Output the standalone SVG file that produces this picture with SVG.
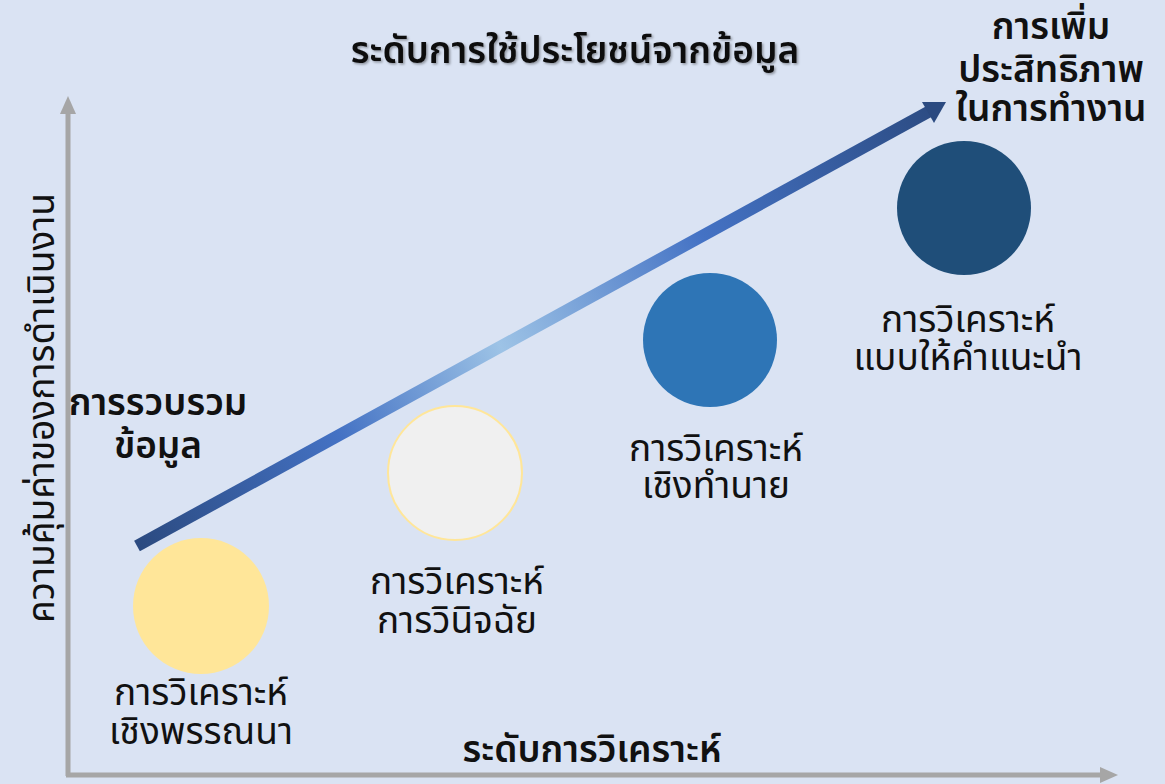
<svg xmlns="http://www.w3.org/2000/svg" width="1165" height="784" viewBox="0 0 1165 784">
<defs>
<style>
text{font-family:"Noto Sans Thai","Noto Sans","DejaVu Sans",sans-serif;font-size:37px;fill:#111;text-anchor:middle}
.b{font-weight:600}
.ax{stroke:#A6A6A6;stroke-width:5;fill:none}
</style>
<linearGradient id="g" gradientUnits="userSpaceOnUse" x1="137" y1="546" x2="945" y2="103">
<stop offset="0" stop-color="#2B4A80"/>
<stop offset="0.25" stop-color="#4472C4"/>
<stop offset="0.45" stop-color="#9DC3E6"/>
<stop offset="0.7" stop-color="#4472C4"/>
<stop offset="1" stop-color="#2B4A80"/>
</linearGradient>
<filter id="sh" x="-5%" y="-20%" width="110%" height="140%"><feDropShadow dx="1.5" dy="1.5" stdDeviation="1" flood-color="#000" flood-opacity="0.35"/></filter>
</defs>
<rect width="1165" height="784" fill="#DAE3F3"/>
<g id="connectors">
<path class="ax" d="M68,776 V110"/>
<polygon points="68,96 60,114 76,114" fill="#A6A6A6"/>
<path class="ax" d="M66,775 H1102"/>
<polygon points="1118,775 1100,767 1100,783" fill="#A6A6A6"/>
<path d="M137,546 L930,111" stroke="url(#g)" stroke-width="12" fill="none"/>
<polygon points="946,102 922,102 934,123" fill="#2B4A80"/>
</g>
<g id="title"><text x="575" y="63" class="b" filter="url(#sh)">ระดับการใช้ประโยชน์จากข้อมูล</text></g>
<g id="goal"><text x="1051" y="39" class="b">การเพิ่ม</text><text x="1051" y="82" class="b">ประสิทธิภาพ</text><text x="1051" y="121" class="b">ในการทำงาน</text></g>
<g id="collect"><text x="158" y="415" class="b">การรวบรวม</text><text x="158" y="458" class="b">ข้อมูล</text></g>
<g id="ylabel"><text transform="translate(54,408) rotate(-90)">ความคุ้มค่าของการดำเนินงาน</text></g>
<g id="xlabel"><text x="592" y="762" class="b">ระดับการวิเคราะห์</text></g>
<g id="n1"><circle cx="201" cy="606" r="68" fill="#FFE699"/><text x="201" y="705">การวิเคราะห์</text><text x="201" y="744">เชิงพรรณนา</text></g>
<g id="n2"><circle cx="455" cy="473" r="67" fill="#F0F0F0" stroke="#FFE699" stroke-width="2"/><text x="457" y="594">การวิเคราะห์</text><text x="457" y="633">การวินิจฉัย</text></g>
<g id="n3"><circle cx="710" cy="340" r="67" fill="#2E75B6"/><text x="716" y="461">การวิเคราะห์</text><text x="716" y="498">เชิงทำนาย</text></g>
<g id="n4"><circle cx="964" cy="208" r="67" fill="#1F4E79"/><text x="968" y="332">การวิเคราะห์</text><text x="968" y="370">แบบให้คำแนะนำ</text></g>
</svg>
